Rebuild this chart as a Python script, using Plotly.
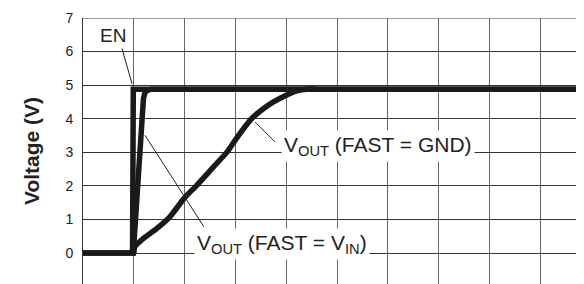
import plotly.graph_objects as go

# Time in grid divisions, voltage in V
en_t = [0.0, 0.5, 0.975, 0.99, 1.3, 3.0, 6.0, 9.9]
en_v = [0.0, 0.0, 0.0, 4.88, 4.88, 4.88, 4.88, 4.88]

fast_vin_t = [0.0, 0.5, 0.99, 1.19, 1.22, 1.27, 1.35, 3.0, 6.0, 9.9]
fast_vin_v = [0.0, 0.0, 0.0, 4.6, 4.78, 4.85, 4.88, 4.88, 4.88, 4.88]

fast_gnd_t = [1.0, 1.02, 1.19, 1.45, 1.71, 1.99, 2.24, 2.57, 2.83, 2.99,
              3.22, 3.35, 3.55, 3.75, 4.0, 4.21, 4.4, 4.6]
fast_gnd_v = [0.0, 0.19, 0.44, 0.73, 1.08, 1.63, 2.02, 2.57, 3.0, 3.35,
              3.82, 4.05, 4.3, 4.5, 4.7, 4.83, 4.88, 4.88]

y_ticks = [0, 1, 2, 3, 4, 5, 6, 7]
x_grid = [0, 1, 2, 3, 4, 5, 6, 7, 8, 9, 10]

FONT = "Liberation Sans, Arial, sans-serif"
LINE_W = 5.5

fig = go.Figure()
fig.add_trace(go.Scatter(x=fast_gnd_t, y=fast_gnd_v, mode="lines",
                         line=dict(color="#1a1a1a", width=LINE_W, shape="spline", smoothing=0.6),
                         showlegend=False, hoverinfo="skip"))
for t, v in [(fast_vin_t, fast_vin_v), (en_t, en_v)]:
    fig.add_trace(go.Scatter(x=t, y=v, mode="lines",
                             line=dict(color="#1a1a1a", width=LINE_W),
                             showlegend=False, hoverinfo="skip"))

fig.update_layout(
    width=576, height=276,
    margin=dict(l=75, r=0, t=9.5, b=0, autoexpand=False),
    paper_bgcolor="white", plot_bgcolor="white",
    font=dict(family=FONT, color="#222"),
    xaxis=dict(range=[0, 9.862], tickvals=x_grid, showticklabels=False,
               showgrid=True, gridcolor="#666", gridwidth=1, zeroline=False,
               showline=False, ticks="", automargin=False),
    yaxis=dict(range=[-0.92, 7], tickvals=y_ticks, showgrid=True,
               gridcolor="#333", gridwidth=1, zeroline=False,
               showline=True, linecolor="#333", linewidth=1, ticks="",
               automargin=False,
               ticklabelstandoff=6, tickfont=dict(size=14, family=FONT, color="#222")),
)

# top border
fig.add_shape(type="line", xref="paper", yref="y", x0=0, x1=1, y0=7, y1=7,
              line=dict(color="#333", width=1), layer="below")

# pointer lines
pointers = [
    (0.768, 6.09, 0.965, 5.04),
    (1.22, 3.51, 2.38, 0.78),
    (3.39, 3.90, 3.78, 3.31),
]
for x0, y0, x1, y1 in pointers:
    fig.add_shape(type="line", xref="x", yref="y", x0=x0, y0=y0, x1=x1, y1=y1,
                  line=dict(color="#222", width=1))

labels = [
    ("EN", 0.59, 6.48, 19, "rgba(0,0,0,0)"),
    ("V<sub>OUT</sub> (FAST = GND)", 5.81, 3.18, 21, "white"),
    ("V<sub>OUT</sub> (FAST = V<sub>IN</sub>)", 3.92, 0.28, 21, "white"),
]
for txt, x, y, sz, bg in labels:
    fig.add_annotation(text=txt, x=x, y=y, xref="x", yref="y", showarrow=False,
                       font=dict(size=sz, family=FONT, color="#222"),
                       bgcolor=bg, borderpad=2, xanchor="center", yanchor="middle")

fig.add_annotation(text="<b>Voltage (V)</b>", xref="paper", yref="paper",
                   x=(23 - 75) / 501, y=0.5, textangle=-90, showarrow=False,
                   font=dict(size=21, family=FONT, color="#222"),
                   xanchor="center", yanchor="middle")

fig.write_html("out.html")
